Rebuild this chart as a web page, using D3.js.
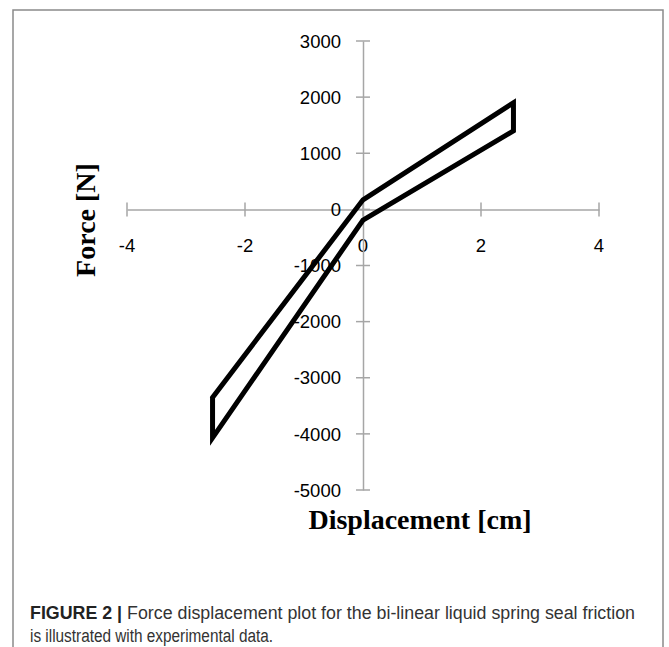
<!DOCTYPE html>
<html><head><meta charset="utf-8">
<script src="https://cdn.jsdelivr.net/npm/d3@7"></script>
<style>body{margin:0;background:#fff}svg{display:block}</style>
</head><body>
<svg id="c" width="669" height="647"></svg>
<script>
const xTicks = [-4, -2, 0, 2, 4];
const yTicks = [3000, 2000, 1000, 0, -1000, -2000, -3000, -4000, -5000];
const loopX = [-2.55, 0, 2.55, 2.55, 0, -2.55, -2.55];
const loopY = [-3350, 170, 1900, 1400, -190, -4070, -3350];
const xTitle = "Displacement [cm]";
const yTitle = "Force [N]";
const captionBold = "FIGURE 2 |";
const captionLine1 = " Force displacement plot for the bi-linear liquid spring seal friction";
const captionLine2 = "is illustrated with experimental data.";

const svg = d3.select("#c");
svg.append("rect").attr("x",13).attr("y",10).attr("width",650).attr("height",700)
  .attr("fill","none").attr("stroke","#8a8a8a").attr("stroke-width",1.5);

const x = d3.scaleLinear().domain([-4,4]).range([127,599]);
const y = d3.scaleLinear().domain([-5000,3000]).range([490,41]);
const axisColor = "#a6a6a6";
const tickFont = "'Liberation Sans', Arial, sans-serif";
const fmt = t => String(t);

// x axis (crossing at y=0)
const gx = svg.append("g").attr("transform",`translate(0,${y(0)})`)
  .call(d3.axisBottom(x).tickValues(xTicks).tickSize(0).tickFormat(""));
gx.select(".domain").attr("stroke",axisColor).attr("stroke-width",1.5);
xTicks.forEach(t=>{
  svg.append("line").attr("x1",x(t)).attr("x2",x(t)).attr("y1",y(0)-7).attr("y2",y(0)+7)
    .attr("stroke",axisColor).attr("stroke-width",1.5);
  svg.append("text").attr("x",x(t)).attr("y",y(0)+43).attr("text-anchor","middle")
    .attr("font-family",tickFont).attr("font-size",18.5).attr("fill","#000").text(fmt(t));
});

// y axis (crossing at x=0)
const gy = svg.append("g").attr("transform",`translate(${x(0)},0)`)
  .call(d3.axisLeft(y).tickValues(yTicks).tickSize(0).tickFormat(""));
gy.select(".domain").attr("stroke",axisColor).attr("stroke-width",1.5);
yTicks.forEach(t=>{
  svg.append("line").attr("x1",x(0)-7).attr("x2",x(0)+7).attr("y1",y(t)).attr("y2",y(t))
    .attr("stroke",axisColor).attr("stroke-width",1.5);
  svg.append("text").attr("x",x(0)-22).attr("y",y(t)).attr("dy","0.36em").attr("text-anchor","end")
    .attr("font-family",tickFont).attr("font-size",18.5).attr("fill","#000").text(fmt(t));
});

// loop
const pts = loopX.map((v,i)=>[x(v), y(loopY[i])]);
svg.append("path").attr("d", d3.line()(pts)).attr("fill","none").attr("stroke","#000")
  .attr("stroke-width",5).attr("stroke-linejoin","miter").attr("stroke-linecap","round");

// titles
const serif = "'Liberation Serif','Times New Roman',serif";
svg.append("text").attr("x",420).attr("y",529).attr("text-anchor","middle")
  .attr("font-family",serif).attr("font-weight","bold")
  .attr("font-size",28).text(xTitle);
svg.append("text").attr("transform","translate(95,220) rotate(-90)").attr("text-anchor","middle")
  .attr("font-family",serif).attr("font-weight","bold")
  .attr("font-size",28).text(yTitle);

// caption
const capFont = "'Liberation Sans',Arial,sans-serif";
const t1 = svg.append("text").attr("x",30).attr("y",619).attr("font-family",capFont)
  .attr("font-size",18).attr("fill","#333");
t1.append("tspan").attr("font-weight","bold").attr("fill","#222").text(captionBold);
t1.append("tspan").text(captionLine1);
t1.attr("textLength",605).attr("lengthAdjust","spacingAndGlyphs");
svg.append("text").attr("x",30).attr("y",642).attr("font-family",capFont)
  .attr("font-size",18).attr("fill","#333").text(captionLine2)
  .attr("textLength",243).attr("lengthAdjust","spacingAndGlyphs");
</script>
</body></html>
